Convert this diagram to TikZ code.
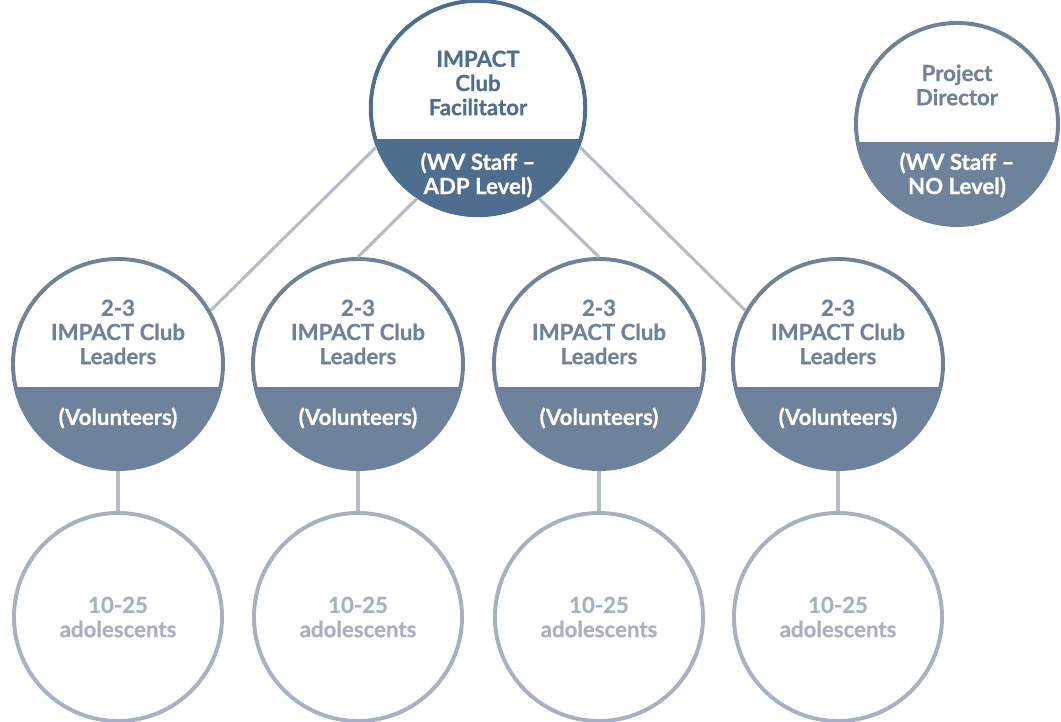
\documentclass[tikz,border=0pt]{standalone}
\usepackage{fontspec}
\setmainfont{Lato}[BoldFeatures={FakeBold=0.6}]
\definecolor{staffblue}{HTML}{4F6E8D}
\definecolor{leadblue}{HTML}{6F829C}
\definecolor{youthgrey}{HTML}{A8B0C4}
\definecolor{linkgrey}{HTML}{B6BBCA}
\tikzset{
  % circle with a white upper part and a coloured band below #2
  splitcircle/.style 2 args={circle, draw=#1, fill=white, line width=2.8pt,
    inner sep=0pt,
    path picture={\fill[#1] ([yshift=-#2]path picture bounding box.west)
      rectangle (path picture bounding box.south east);}},
  facilitator/.style={splitcircle={staffblue}{0.775cm}, minimum size=5.36cm},
  director/.style={splitcircle={leadblue}{0.45cm}, minimum size=5.05cm},
  leader/.style={splitcircle={leadblue}{0.575cm}, minimum size=5.25cm},
  youth/.style={circle, draw=youthgrey, fill=white, line width=2.8pt,
    inner sep=0pt, minimum size=5.2cm},
  label/.style={font=\bfseries\fontsize{15.8}{17.2}\selectfont, align=center,
    inner sep=0pt},
  link/.style={draw=linkgrey, line width=2.2pt},
}
\begin{document}
\begin{tikzpicture}[x=0.025cm, y=-0.025cm]
\useasboundingbox (0,0) rectangle (1061,722);

% circles
\node[facilitator] (fac) at (478,108) {};
\node[director] (pd) at (957,124) {};
\foreach \i/\x in {1/118, 2/358, 3/599, 4/838} {
  \node[leader] (l\i) at (\x,364) {};
  \node[youth] (a\i) at (\x,617) {};
}

% texts
\node[label, text=staffblue] (fac-top) at (478,83) {IMPACT\\Club\\Facilitator};
\node[label, text=white] (fac-bot) at (478,175) {(WV Staff –\\ADP Level)};
\node[label, text=leadblue] (pd-top) at (957,85) {Project\\Director};
\node[label, text=white] (pd-bot) at (957,175) {(WV Staff –\\NO Level)};
\foreach \i/\x in {1/118, 2/358, 3/599, 4/838} {
  \node[label, text=leadblue] (l\i-top) at (\x,332) {2-3\\IMPACT Club\\Leaders};
  \node[label, text=white] (l\i-bot) at (\x,418) {(Volunteers)};
  \node[label, text=youthgrey] (a\i-txt) at (\x,617) {10-25\\adolescents};
}

% connectors
\draw[link] (fac.201) -- (l1.30);
\draw[link] (fac.236) -- (l2.90);
\draw[link] (fac.304) -- (l3.90);
\draw[link] (fac.339) -- (l4.150);
\foreach \i in {1,...,4} {
  \draw[link] (l\i.south) -- (a\i.north);
}
\end{tikzpicture}
\end{document}
